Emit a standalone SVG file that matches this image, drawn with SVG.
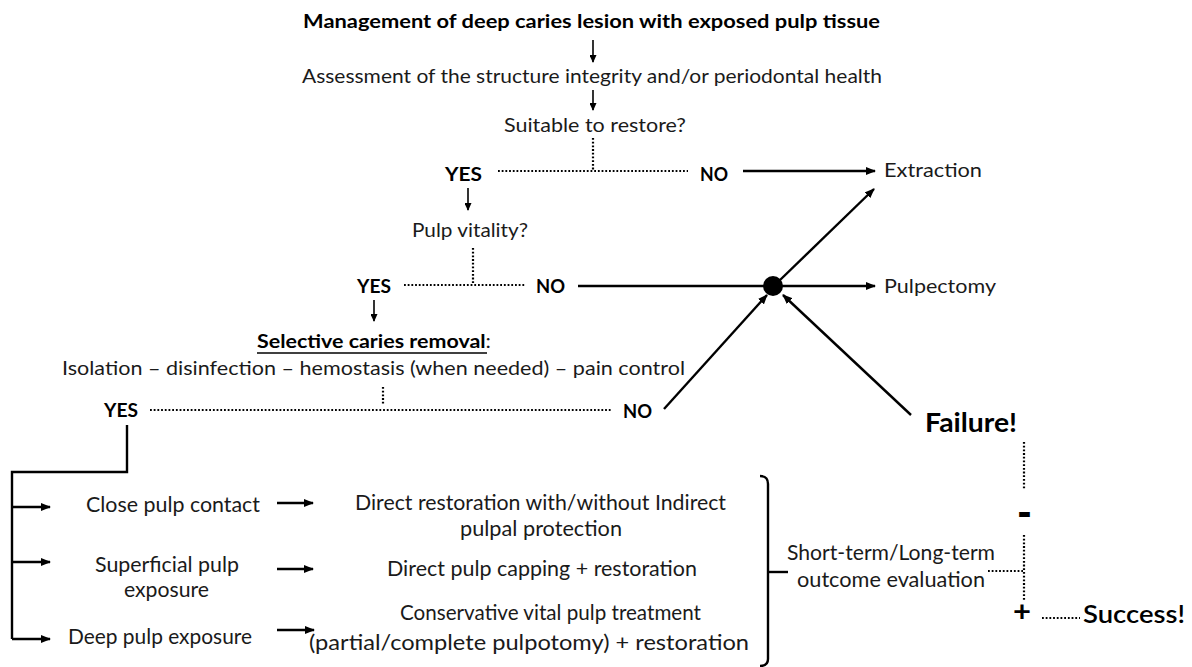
<svg xmlns="http://www.w3.org/2000/svg" width="1192" height="667" viewBox="0 0 1192 667">
<style>
text{font-family:Lato,"Open Sans","Liberation Sans",sans-serif;fill:#1a1a1a;font-size:19px}
.b{font-weight:bold;fill:#000}
.m{font-size:20.5px}
.ln{stroke:#000;stroke-width:2.4;fill:none}
.th{stroke:#000;stroke-width:1.6;fill:none}
.dot{stroke:#000;stroke-width:2.2;stroke-dasharray:1.8 1.9;fill:none}
</style>
<defs>
<marker id="ah" markerWidth="10" markerHeight="8" refX="9" refY="4" orient="auto" markerUnits="userSpaceOnUse">
<path d="M0,0 L10,4 L0,8 Z" fill="#000"/>
</marker>
<marker id="as" markerWidth="8" markerHeight="7" refX="7" refY="3.5" orient="auto" markerUnits="userSpaceOnUse">
<path d="M0,0 L8,3.5 L0,7 Z" fill="#000"/>
</marker>
</defs>
<rect width="1192" height="667" fill="#fff"/>

<g id="connectors">
<line class="th" x1="593" y1="40" x2="593" y2="62" marker-end="url(#as)"/>
<line class="th" x1="593" y1="90" x2="593" y2="110" marker-end="url(#as)"/>
<line class="dot" x1="593" y1="138" x2="593" y2="170"/>
<line class="dot" x1="498" y1="171" x2="688" y2="171"/>
<line class="ln" x1="743" y1="171" x2="875" y2="171" marker-end="url(#ah)"/>
<line class="th" x1="468" y1="188" x2="468" y2="210" marker-end="url(#as)"/>
<line class="dot" x1="473" y1="248" x2="473" y2="284"/>
<line class="dot" x1="404" y1="285" x2="525" y2="285"/>
<line class="ln" x1="578" y1="286" x2="770" y2="286"/>
<line class="ln" x1="780" y1="286" x2="875" y2="286" marker-end="url(#ah)"/>
<line class="ln" x1="779" y1="281" x2="874" y2="189" marker-end="url(#ah)"/>
<line class="ln" x1="664" y1="409" x2="767" y2="295" marker-end="url(#ah)"/>
<line class="ln" x1="911" y1="415" x2="783" y2="295" marker-end="url(#ah)"/>
<line class="th" x1="374" y1="300" x2="374" y2="321" marker-end="url(#as)"/>
<line class="dot" x1="383" y1="387" x2="383" y2="405"/>
<line class="dot" x1="150" y1="410" x2="612" y2="410"/>
<path class="ln" d="M127,425 V472 H12 V639"/>
<line class="ln" x1="12" y1="507" x2="50" y2="507" marker-end="url(#ah)"/>
<line class="ln" x1="12" y1="562" x2="50" y2="562" marker-end="url(#ah)"/>
<line class="ln" x1="12" y1="639" x2="50" y2="639" marker-end="url(#ah)"/>
<line class="ln" x1="277" y1="503" x2="313" y2="503" marker-end="url(#ah)"/>
<line class="ln" x1="277" y1="569" x2="313" y2="569" marker-end="url(#ah)"/>
<line class="ln" x1="277" y1="630" x2="314" y2="630" marker-end="url(#ah)"/>
<path class="ln" d="M760,476 Q768,476 768,484 V659 Q768,666 760,666"/>
<line class="ln" x1="768" y1="572" x2="788" y2="572"/>
<line class="dot" x1="1024" y1="442" x2="1024" y2="490"/>
<line class="dot" x1="1024" y1="535" x2="1024" y2="600"/>
<line class="dot" x1="988" y1="571" x2="1023" y2="571"/>
<line class="dot" x1="1042" y1="618" x2="1080" y2="618"/>
</g>

<g id="n-title"><text class="b" x="303" y="28" textLength="577" lengthAdjust="spacingAndGlyphs">Management of deep caries lesion with exposed pulp tissue</text></g>
<g id="n-assess"><text x="302" y="83" textLength="580" lengthAdjust="spacingAndGlyphs">Assessment of the structure integrity and/or periodontal health</text></g>
<g id="n-suitable"><text x="504" y="132" textLength="182" lengthAdjust="spacingAndGlyphs">Suitable to restore?</text></g>
<g id="n-yes1"><text class="b" x="445" y="181" textLength="37" lengthAdjust="spacingAndGlyphs">YES</text></g>
<g id="n-no1"><text class="b" x="700" y="181" textLength="28" lengthAdjust="spacingAndGlyphs">NO</text></g>
<g id="n-extraction"><text x="884" y="177" textLength="98" lengthAdjust="spacingAndGlyphs">Extraction</text></g>
<g id="n-vitality"><text x="412" y="237" textLength="116" lengthAdjust="spacingAndGlyphs">Pulp vitality?</text></g>
<g id="n-yes2"><text class="b" x="357" y="293" textLength="34" lengthAdjust="spacingAndGlyphs">YES</text></g>
<g id="n-no2"><text class="b" x="536" y="293" textLength="29" lengthAdjust="spacingAndGlyphs">NO</text></g>
<g id="n-junction"><circle cx="773" cy="286" r="10" fill="#000"/></g>
<g id="n-pulpectomy"><text x="884" y="293" textLength="112" lengthAdjust="spacingAndGlyphs">Pulpectomy</text></g>
<g id="n-selective">
<text x="257" y="348" textLength="234" lengthAdjust="spacingAndGlyphs"><tspan class="b">Selective caries removal</tspan>:</text>
<line x1="257" y1="353" x2="487" y2="353" stroke="#000" stroke-width="1.5"/>
<text x="62" y="375" textLength="623" lengthAdjust="spacingAndGlyphs">Isolation – disinfection – hemostasis (when needed) – pain control</text>
</g>
<g id="n-yes3"><text class="b" x="104" y="417" textLength="34" lengthAdjust="spacingAndGlyphs">YES</text></g>
<g id="n-no3"><text class="b" x="623" y="418" textLength="29" lengthAdjust="spacingAndGlyphs">NO</text></g>
<g id="n-failure"><text class="b" x="925" y="432" textLength="92" lengthAdjust="spacingAndGlyphs" style="font-size:27px">Failure!</text></g>
<g id="n-close"><text class="m" x="86" y="512" textLength="174" lengthAdjust="spacingAndGlyphs">Close pulp contact</text></g>
<g id="n-superficial">
<text class="m" x="95" y="572" textLength="144" lengthAdjust="spacingAndGlyphs">Superficial pulp</text>
<text class="m" x="124" y="597" textLength="85" lengthAdjust="spacingAndGlyphs">exposure</text>
</g>
<g id="n-deep"><text class="m" x="68" y="644" textLength="184" lengthAdjust="spacingAndGlyphs">Deep pulp exposure</text></g>
<g id="n-direct">
<text class="m" x="355" y="510" textLength="371" lengthAdjust="spacingAndGlyphs">Direct restoration with/without Indirect</text>
<text class="m" x="460" y="536" textLength="162" lengthAdjust="spacingAndGlyphs">pulpal protection</text>
</g>
<g id="n-capping"><text class="m" x="387" y="576" textLength="310" lengthAdjust="spacingAndGlyphs">Direct pulp capping + restoration</text></g>
<g id="n-conservative">
<text class="m" x="400" y="620" textLength="301" lengthAdjust="spacingAndGlyphs">Conservative vital pulp treatment</text>
<text class="m" x="309" y="650" textLength="440" lengthAdjust="spacingAndGlyphs">(partial/complete pulpotomy) + restoration</text>
</g>
<g id="n-outcome">
<text class="m" x="787" y="560" textLength="208" lengthAdjust="spacingAndGlyphs">Short-term/Long-term</text>
<text class="m" x="797" y="587" textLength="188" lengthAdjust="spacingAndGlyphs">outcome evaluation</text>
</g>
<g id="n-minus"><text class="b" x="1017" y="528" style="font-size:44px;font-weight:900" textLength="15" lengthAdjust="spacingAndGlyphs">-</text></g>
<g id="n-plus"><text class="b" x="1013" y="621" style="font-size:28px" textLength="18" lengthAdjust="spacingAndGlyphs">+</text></g>
<g id="n-success"><text x="1083" y="623" style="font-size:25px;font-weight:600;fill:#000" textLength="102" lengthAdjust="spacingAndGlyphs">Success!</text></g>
</svg>
